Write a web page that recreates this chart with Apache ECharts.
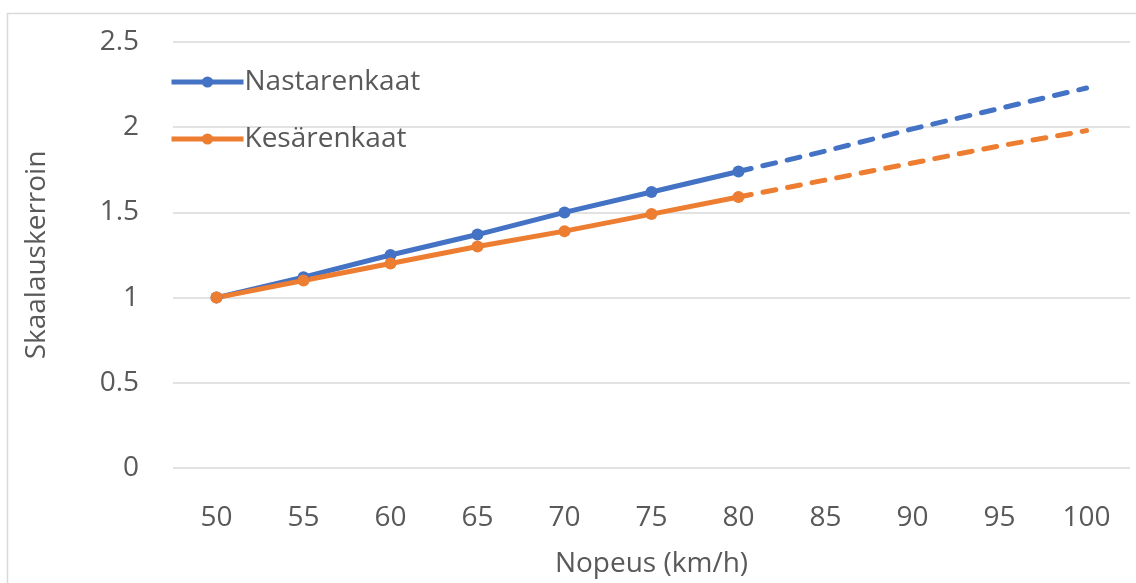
<!DOCTYPE html>
<html>
<head>
<meta charset="utf-8">
<script src="https://cdn.jsdelivr.net/npm/echarts@6/dist/echarts.min.js"></script>
<style>
  html, body { margin: 0; padding: 0; background: #fff; }
  #chart { width: 1136px; height: 583px; }
</style>
</head>
<body>
<div id="chart"></div>
<script>
// Nopeus (km/h)
const speeds = ['50', '55', '60', '65', '70', '75', '80', '85', '90', '95', '100'];
// measured part (solid, with markers)
const nastaMeasured = [1, 1.12, 1.25, 1.37, 1.5, 1.62, 1.74, null, null, null, null];
const kesaMeasured = [1, 1.1, 1.2, 1.3, 1.39, 1.49, 1.59, null, null, null, null];
// extrapolated part (dashed)
const nastaProjected = [null, null, null, null, null, null, 1.74, 1.86, 1.99, 2.11, 2.23];
const kesaProjected = [null, null, null, null, null, null, 1.59, 1.69, 1.79, 1.89, 1.98];

const blue = '#4472C4';
const orange = '#ED7D31';
const textColor = '#595959';
const font = '"Open Sans", sans-serif';
const fontSize = 28;

const chart = echarts.init(document.getElementById('chart'));

const solid = (name, data, color) => ({
  name,
  type: 'line',
  data,
  symbol: 'circle',
  symbolSize: 12,
  lineStyle: { width: 5, color },
  itemStyle: { color },
  z: 3,
});
const dashed = (name, data, color) => ({
  name,
  type: 'line',
  data,
  symbol: 'none',
  lineStyle: { width: 5, color, type: [13, 12], cap: 'round' },
  itemStyle: { color },
  z: 2,
});

chart.setOption({
  animation: false,
  textStyle: { fontFamily: font },
  graphic: [{
    type: 'rect',
    shape: { x: 7.5, y: 13.5, width: 1140, height: 600 },
    style: { fill: 'none', stroke: '#d9d9d9', lineWidth: 1.5 },
    silent: true,
  }],
  grid: { left: 173, right: 6, top: 42, bottom: 110 },
  legend: {
    data: ['Nastarenkaat', 'Kesärenkaat'],
    orient: 'vertical',
    left: 164,
    top: 63,
    itemWidth: 72,
    itemHeight: 14,
    itemGap: 29,
    lineStyle: { width: 5 },
    textStyle: { fontSize, color: textColor, fontFamily: font, padding: [0, 0, 0, -4] },
  },
  xAxis: {
    type: 'category',
    data: speeds,
    boundaryGap: true,
    name: 'Nopeus (km/h)',
    nameLocation: 'middle',
    nameGap: 82,
    nameTextStyle: { fontSize, color: textColor, fontFamily: font },
    axisLine: { show: false },
    axisTick: { show: false },
    axisLabel: { fontSize, color: textColor, margin: 36, fontFamily: font },
  },
  yAxis: {
    type: 'value',
    min: 0,
    max: 2.5,
    interval: 0.5,
    name: 'Skaalauskerroin',
    nameLocation: 'middle',
    nameGap: 122,
    nameTextStyle: { fontSize, color: textColor, fontFamily: font },
    axisLine: { show: false },
    axisTick: { show: false },
    axisLabel: { fontSize, color: textColor, margin: 34, fontFamily: font },
    splitLine: { lineStyle: { color: '#d9d9d9', width: 1.5 } },
  },
  series: [
    dashed('Nastarenkaat (ennuste)', nastaProjected, blue),
    dashed('Kesärenkaat (ennuste)', kesaProjected, orange),
    solid('Nastarenkaat', nastaMeasured, blue),
    solid('Kesärenkaat', kesaMeasured, orange),
  ],
});
</script>
</body>
</html>
